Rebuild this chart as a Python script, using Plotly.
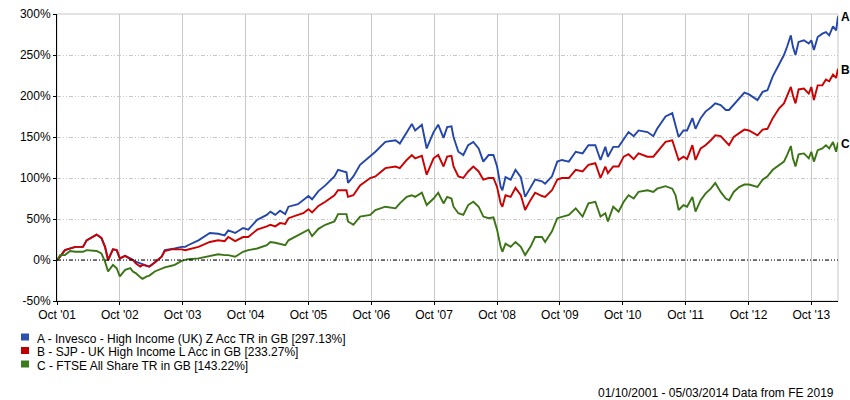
import plotly.graph_objects as go

dates = ["2001-10-01","2001-10-19","2001-11-16","2001-12-16","2002-01-16","2002-03-01","2002-03-22","2002-05-19","2002-06-16","2002-07-07",
"2002-07-25","2002-08-22","2002-09-13","2002-10-01","2002-11-01","2002-12-01","2002-12-16","2003-01-01","2003-01-28","2003-02-10",
"2003-03-07","2003-03-22","2003-04-22","2003-06-01","2003-06-19","2003-07-28","2003-08-16","2003-09-25","2003-10-16","2003-11-01",
"2004-01-01","2004-03-07","2004-04-25","2004-06-01","2004-06-22","2004-08-01","2004-09-16","2004-10-16","2004-12-07","2005-02-01",
"2005-02-22","2005-03-22","2005-04-19","2005-05-19","2005-06-07","2005-08-01","2005-09-01","2005-10-01","2005-10-22","2005-11-28",
"2006-01-07","2006-03-01","2006-03-22","2006-05-10","2006-05-19","2006-06-19","2006-07-28","2006-09-25","2006-10-25","2006-12-22",
"2007-02-19","2007-03-16","2007-04-25","2007-05-25","2007-06-13","2007-07-22","2007-08-19","2007-09-28","2007-10-25","2007-11-25",
"2007-12-16","2008-01-10","2008-01-22","2008-02-19","2008-03-19","2008-04-16","2008-05-16","2008-06-16","2008-07-13","2008-08-13",
"2008-09-10","2008-10-01","2008-10-22","2008-11-01","2008-11-19","2008-12-19","2009-01-16","2009-02-16","2009-03-13","2009-04-13",
"2009-05-10","2009-06-19","2009-07-07","2009-08-16","2009-09-16","2009-10-13","2009-11-22","2010-01-01","2010-02-10","2010-03-16",
"2010-04-25","2010-05-25","2010-06-22","2010-07-07","2010-08-07","2010-09-07","2010-10-07","2010-11-04","2010-12-04","2011-01-01",
"2011-02-22","2011-03-28","2011-04-19","2011-06-07","2011-07-16","2011-08-04","2011-08-22","2011-09-19","2011-10-10","2011-11-10",
"2011-11-28","2011-12-28","2012-01-25","2012-02-25","2012-03-22","2012-04-22","2012-05-22","2012-06-10","2012-07-07","2012-08-07",
"2012-09-07","2012-10-04","2012-11-22","2012-12-22","2013-01-19","2013-02-19","2013-03-28","2013-04-25","2013-05-13","2013-06-04",
"2013-06-16","2013-07-01","2013-07-19","2013-08-19","2013-09-16","2013-10-01","2013-10-16","2013-11-07","2013-12-04","2013-12-25",
"2014-01-13","2014-02-04","2014-02-22","2014-03-05"]

series_a = [0, 4, 12, 14, 16, 16, 24, 31, 27, 16,
0, 13, 12, 2, 5, 2, 0, -2, -4, -5,
-6, -8, -3, 4, 12, 13, 14, 16, 16, 18,
24, 33, 32, 30, 36, 33, 39, 37, 49, 55,
59, 55, 60, 56, 65, 68, 73, 78, 74, 84,
91, 102, 110, 107, 94, 102, 116, 126, 132, 144,
146, 142, 156, 166, 158, 165, 136, 156, 165, 149,
162, 163, 150, 132, 128, 140, 144, 136, 120, 128,
128, 114, 89, 85, 101, 98, 110, 101, 77, 89,
98, 96, 93, 102, 120, 122, 120, 132, 130, 140,
140, 122, 138, 126, 138, 138, 148, 156, 151, 158,
156, 151, 160, 175, 179, 165, 150, 158, 158, 173,
160, 173, 181, 186, 191, 189, 183, 183, 189, 197,
204, 202, 195, 205, 207, 224, 238, 250, 260, 274,
260, 250, 266, 268, 264, 268, 256, 272, 276, 278,
274, 285, 280, 297.13]

series_b = [0, 4, 12, 14, 16, 16, 24, 31, 27, 16,
0, 13, 12, 2, 5, 1, 0, -4, -8, -6,
-7, -8, -3, 4, 11, 13, 13, 13, 12, 13,
16, 22, 24, 23, 28, 23, 28, 28, 37, 41,
43, 41, 45, 44, 51, 55, 57, 62, 58, 66,
71, 79, 85, 85, 77, 79, 91, 100, 102, 112,
114, 112, 122, 128, 124, 127, 104, 124, 128, 114,
126, 127, 114, 102, 100, 108, 114, 108, 98, 100,
100, 89, 69, 65, 79, 77, 88, 79, 61, 73,
82, 78, 77, 85, 98, 100, 100, 110, 108, 116,
118, 100, 114, 106, 114, 114, 126, 129, 123, 130,
126, 126, 132, 144, 146, 132, 122, 126, 123, 140,
122, 136, 140, 146, 152, 151, 144, 140, 150, 154,
159, 158, 152, 159, 160, 173, 185, 191, 200, 211,
201, 191, 208, 209, 203, 211, 195, 213, 213, 220,
218, 226, 222, 233.27]

series_c = [0, 6, 6, 11, 10, 10, 12, 11, 8, -2,
-14, -6, -10, -20, -12, -10, -14, -16, -21, -23,
-20, -19, -14, -10, -9, -7, -6, -1, 0.5, 1,
2, 5, 7, 6, 6, 4, 10, 12, 14, 18,
22, 21, 20, 18, 24, 30, 33, 37, 29, 38,
43, 47, 56, 56, 47, 43, 53, 55, 61, 65,
63, 69, 77, 79, 77, 82, 67, 75, 82, 69,
77, 75, 65, 57, 55, 67, 71, 65, 53, 51,
52, 37, 16, 10, 20, 16, 22, 16, 6, 16,
28, 28, 22, 35, 51, 53, 55, 63, 53, 69,
71, 53, 57, 47, 65, 59, 71, 79, 75, 83,
85, 83, 87, 90, 87, 79, 61, 67, 65, 77,
59, 73, 81, 87, 94, 83, 75, 73, 83, 89,
92, 92, 89, 98, 102, 110, 116, 120, 128, 139,
124, 114, 129, 130, 124, 132, 120, 134, 136, 140,
136, 144, 132, 143.22]

series_names = ["A - Invesco - High Income (UK) Z Acc TR in GB [297.13%]",
                "B - SJP - UK High Income L Acc in GB [233.27%]",
                "C - FTSE All Share TR in GB [143.22%]"]
series_tags = ["A", "B", "C"]
line_colors = ["#2446AA", "#CC0000", "#3A7414"]
legend_colors = ["#2A50B0", "#C00000", "#3C7A1E"]

tick_dates = ["%d-10-01" % y for y in range(2001, 2014)]
tick_text = ["Oct '%02d" % (y % 100) for y in range(2001, 2014)]
y_ticks = [-50, 0, 50, 100, 150, 200, 250, 300]
y_tick_text = ["%d%%" % v for v in y_ticks]

FONT = "Liberation Sans, Arial, sans-serif"

fig = go.Figure()
for vals, name, col in zip([series_a, series_b, series_c], series_names, line_colors):
    fig.add_trace(go.Scatter(x=dates, y=vals, mode="lines", name=name,
                             line=dict(color=col, width=1.9), showlegend=False))

# plot geometry helpers (pixel -> paper)
L, R, T, B = 57, 838, 14, 301
def px(x):
    return (x - L) / (R - L)
def py(y):
    return (B - y) / (B - T)

shapes = [
    dict(type="rect", xref="paper", yref="paper", x0=0, x1=1, y0=0, y1=1,
         line=dict(color="#C8C8C8", width=1), layer="below"),
    dict(type="line", xref="paper", yref="y", x0=0, x1=1, y0=0, y1=0,
         line=dict(color="#000000", width=1, dash="4px,2px,1px,2px,1px,2px")),
]
annotations = []
rows_y = [338.5, 352, 365.5]
for name, col, ry in zip(series_names, legend_colors, rows_y):
    shapes.append(dict(type="rect", xref="paper", yref="paper",
                       x0=px(21), x1=px(29), y0=py(ry - 5), y1=py(ry + 2),
                       fillcolor=col, line=dict(width=0)))
    annotations.append(dict(xref="paper", yref="paper", x=px(35), y=py(ry),
                            xanchor="left", yanchor="middle", showarrow=False,
                            text=name, font=dict(family=FONT, size=12, color="#000")))

for vals, tag in zip([series_a, series_b, series_c], series_tags):
    annotations.append(dict(x=dates[-1], y=vals[-1], xref="x", yref="y",
                            xanchor="left", yanchor="middle", xshift=1, yshift=-1,
                            showarrow=False, text="<b>%s</b>" % tag,
                            font=dict(family=FONT, size=12, color="#000")))

annotations.append(dict(xref="paper", yref="paper", x=px(836), y=py(393),
                        xanchor="right", yanchor="middle", showarrow=False,
                        text="01/10/2001 - 05/03/2014 Data from FE 2019",
                        font=dict(family=FONT, size=12, color="#000")))

fig.update_layout(
    width=850, height=400,
    margin=dict(l=L, r=850 - R, t=T, b=400 - B, autoexpand=False),
    paper_bgcolor="white", plot_bgcolor="white",
    font=dict(family=FONT, size=12, color="#000"),
    showlegend=False,
    shapes=shapes, annotations=annotations,
    xaxis=dict(range=["2001-10-01", "2014-03-05"], tickmode="array",
               tickvals=tick_dates, ticktext=tick_text, automargin=False,
               showgrid=True, gridcolor="#C8C8C8", gridwidth=1,
               showline=True, linecolor="#000", linewidth=1,
               ticks="outside", ticklen=3, tickcolor="#000",
               zeroline=False, tickfont=dict(family=FONT, size=12, color="#000")),
    yaxis=dict(range=[-50, 300], tickmode="array", tickvals=y_ticks, ticktext=y_tick_text,
               automargin=False,
               showgrid=True, gridcolor="#C8C8C8", gridwidth=1, griddash="4px,2px,1px,2px,1px,2px",
               showline=True, linecolor="#000", linewidth=1,
               ticks="outside", ticklen=3, tickcolor="#000",
               zeroline=False, tickfont=dict(family=FONT, size=12, color="#000")),
)

fig.write_html("out.html", config={"displayModeBar": False},
               post_script="document.body.style.margin='0';")
